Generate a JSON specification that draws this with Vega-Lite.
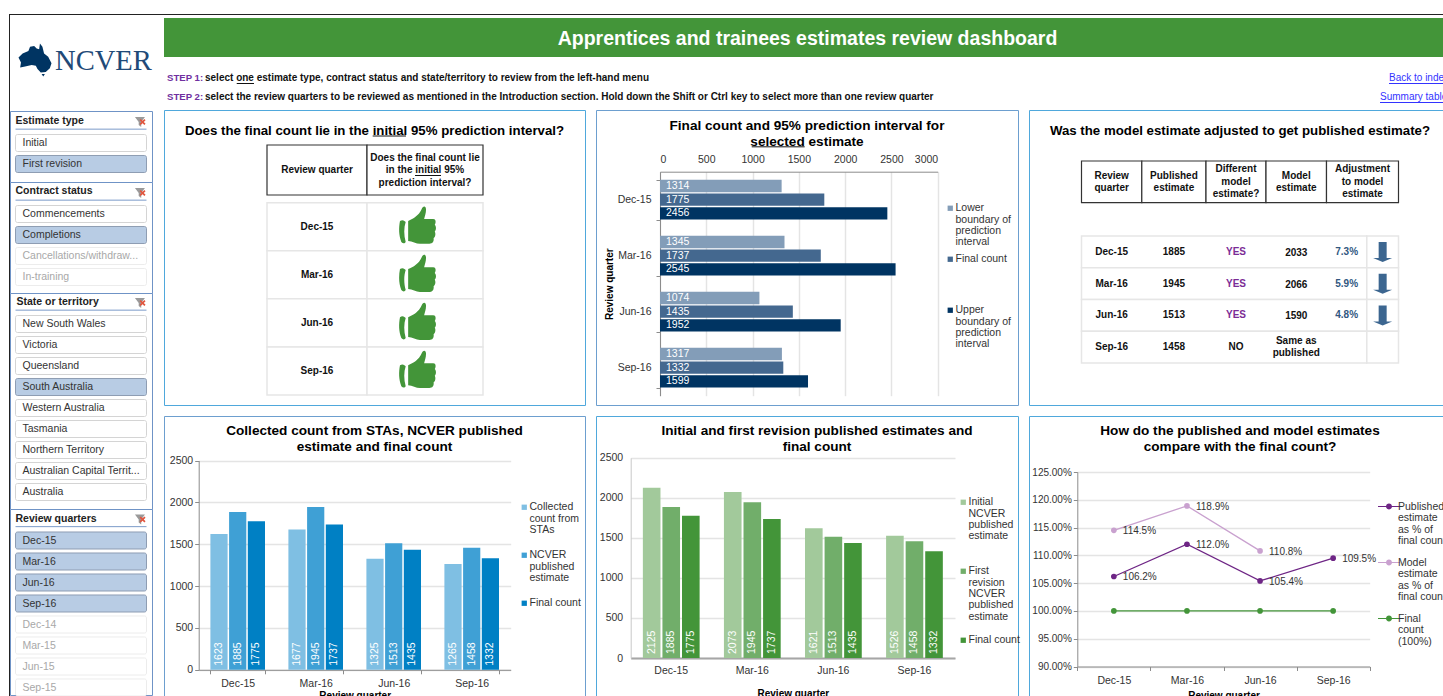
{
"$schema":"https://vega.github.io/schema/vega-lite/v6.json",
"padding":{"left":9,"top":14,"right":0,"bottom":0},
"background":"white",
"config":{"font":"Liberation Sans","view":{"stroke":null},
"style":{"guide-label":{"lineHeight":11.4}},
"axis":{"labelFontSize":10.5,"labelColor":"#333333","tickColor":"#8c8c8c","domainColor":"#8c8c8c","gridColor":"#e4e4e4","gridWidth":1.5,"titleFontSize":10,"titleFontWeight":"bold","titleColor":"#000000","labelFont":"Liberation Sans","titleFont":"Liberation Sans","tickSize":4},
"legend":{"labelFontSize":10.5,"labelColor":"#333333","title":null,"orient":"none","gridAlign":"all","symbolType":"square","symbolSize":28,"symbolStrokeWidth":0,"labelLimit":200,"labelBaseline":"top"},
"title":{"font":"Liberation Sans","fontSize":13.25,"fontWeight":"bold","color":"#000000","anchor":"middle","frame":"group","baseline":"top","lineHeight":16}},
"spacing":0,
"resolve":{"scale":{"color":"independent","fill":"independent","stroke":"independent","xOffset":"independent","yOffset":"independent"},"legend":{"color":"independent","fill":"independent","stroke":"independent"}},
"vconcat":[
{"width":1440,"height":1,"view":{"fill":"#222222"},"data":{"values":[]},"mark":"point","encoding":{}},
{"spacing":-1,
"resolve":{"scale":{"color":"independent","fill":"independent","stroke":"independent","xOffset":"independent","yOffset":"independent"},"legend":{"color":"independent","fill":"independent","stroke":"independent"}},
"hconcat":[
{"width":1,"height":690,"view":{"fill":"#222222"},"data":{"values":[]},"mark":"point","encoding":{}},
{"spacing":0,"bounds":"flush",
"resolve":{"scale":{"color":"independent","fill":"independent","stroke":"independent","xOffset":"independent","yOffset":"independent"},"legend":{"color":"independent","fill":"independent","stroke":"independent"}},
"vconcat":[
{"width":142,"height":96,"data":{"values":[{"part":"map","t":""},{"part":"name","t":"NCVER"}]},
"encoding":{"x":{"field":"part","type":"nominal","axis":null,"scale":{"type":"point","padding":0,"domain":["map","name"],"range":[25,45]}},"y":{"field":"part","type":"nominal","axis":null,"scale":{"type":"point","padding":0,"domain":["map","name"],"range":[45,46]}}},
"layer":[
{"transform":[{"filter":"datum.part=='map'"}],"mark":{"type":"point","filled":true,"opacity":1,"color":"#003462","size":1089,"shape":"M-1,-0.15 L-0.75,-0.4 L-0.4,-0.55 L-0.3,-0.8 L-0.05,-0.85 L0.1,-0.7 L0.25,-0.65 L0.3,-1 L0.45,-0.8 L0.55,-0.4 L0.8,-0.2 L1,0.2 L0.9,0.5 L0.65,0.72 L0.35,0.75 L0.15,0.55 L0.05,0.35 L-0.2,0.3 L-0.6,0.4 L-0.9,0.45 L-0.85,0.15 Z M0.4,0.85 L0.6,0.85 L0.5,1 Z"}},
{"transform":[{"filter":"datum.part=='name'"}],"mark":{"type":"text","font":"Liberation Serif","fontSize":28.6,"color":"#1f4a78","align":"left","baseline":"middle"},"encoding":{"text":{"field":"t"}}}
]},
{"width":142,"height":71,"view":{"stroke":"#6f93c6","fill":"white"},
"data":{"values":[{"item":"Estimate type","state":"header"},{"item":"Initial","state":"off"},{"item":"First revision","state":"on"}]},
"encoding":{"y":{"field":"item","type":"nominal","axis":null,"scale":{"domain":["Estimate type","Initial","First revision"],"range":[0.5,63.5],"paddingInner":0.19,"paddingOuter":0.095}}},
"layer":[
{"transform":[{"filter":"datum.state!='header'"}],"mark":{"type":"rect","cornerRadius":2,"strokeWidth":1},"encoding":{"x":{"datum":0,"type":"quantitative","axis":null,"scale":{"domain":[0,1],"range":[5.5,136.5]}},"x2":{"datum":1},"fill":{"field":"state","type":"nominal","legend":null,"scale":{"domain":["off","on","dim"],"range":["#ffffff","#b8cce4","#ffffff"]}},"stroke":{"field":"state","type":"nominal","legend":null,"scale":{"domain":["off","on","dim"],"range":["#d4d4d4","#8e9db3","#ececec"]}}}},
{"transform":[{"filter":"datum.state!='header'"}],"mark":{"type":"text","align":"left","baseline":"middle","dx":7,"fontSize":10.5},"encoding":{"x":{"datum":0,"type":"quantitative"},"text":{"field":"item"},"color":{"field":"state","type":"nominal","legend":null,"scale":{"domain":["off","on","dim"],"range":["#333333","#333333","#a8a8a8"]}}}},
{"transform":[{"filter":"datum.state=='header'"}],"mark":{"type":"text","align":"left","baseline":"middle","dy":-1,"dx":0,"fontSize":10.5,"fontWeight":"bold","color":"#222222"},"encoding":{"x":{"datum":0,"type":"quantitative"},"text":{"field":"item"}}},
{"transform":[{"filter":"datum.state=='header'"}],"mark":{"type":"rule","color":"#7c9bc9","strokeWidth":1},"encoding":{"x":{"datum":0,"type":"quantitative"},"x2":{"datum":1},"y":{"field":"item","type":"nominal","bandPosition":0.92}}},
{"transform":[{"filter":"datum.state=='header'"}],"mark":{"type":"point","filled":true,"opacity":1,"color":"#9a9a9a","size":100,"dy":-2,"shape":"M-1,-1 L1,-1 L0.25,0 L0.25,1 L-0.25,0.6 L-0.25,0 Z"},"encoding":{"x":{"datum":0.95,"type":"quantitative"}}},
{"transform":[{"filter":"datum.state=='header'"}],"mark":{"type":"point","filled":true,"opacity":1,"color":"#e0563f","size":36,"shape":"M-1,-0.6 L-0.6,-1 L0,-0.4 L0.6,-1 L1,-0.6 L0.4,0 L1,0.6 L0.6,1 L0,0.4 L-0.6,1 L-1,0.6 L-0.4,0 Z"},"encoding":{"x":{"datum":0.97,"type":"quantitative"}}}
]},
{"width":142,"height":111,"view":{"stroke":"#6f93c6","fill":"white"},
"data":{"values":[{"item":"Contract status","state":"header"},{"item":"Commencements","state":"off"},{"item":"Completions","state":"on"},{"item":"Cancellations/withdraw...","state":"dim"},{"item":"In-training","state":"dim"}]},
"encoding":{"y":{"field":"item","type":"nominal","axis":null,"scale":{"domain":["Contract status","Commencements","Completions","Cancellations/withdraw...","In-training"],"range":[0.5,105.5],"paddingInner":0.19,"paddingOuter":0.095}}},
"layer":[
{"transform":[{"filter":"datum.state!='header'"}],"mark":{"type":"rect","cornerRadius":2,"strokeWidth":1},"encoding":{"x":{"datum":0,"type":"quantitative","axis":null,"scale":{"domain":[0,1],"range":[5.5,136.5]}},"x2":{"datum":1},"fill":{"field":"state","type":"nominal","legend":null,"scale":{"domain":["off","on","dim"],"range":["#ffffff","#b8cce4","#ffffff"]}},"stroke":{"field":"state","type":"nominal","legend":null,"scale":{"domain":["off","on","dim"],"range":["#d4d4d4","#8e9db3","#ececec"]}}}},
{"transform":[{"filter":"datum.state!='header'"}],"mark":{"type":"text","align":"left","baseline":"middle","dx":7,"fontSize":10.5},"encoding":{"x":{"datum":0,"type":"quantitative"},"text":{"field":"item"},"color":{"field":"state","type":"nominal","legend":null,"scale":{"domain":["off","on","dim"],"range":["#333333","#333333","#a8a8a8"]}}}},
{"transform":[{"filter":"datum.state=='header'"}],"mark":{"type":"text","align":"left","baseline":"middle","dy":-2,"dx":0,"fontSize":10.5,"fontWeight":"bold","color":"#222222"},"encoding":{"x":{"datum":0,"type":"quantitative"},"text":{"field":"item"}}},
{"transform":[{"filter":"datum.state=='header'"}],"mark":{"type":"rule","color":"#7c9bc9","strokeWidth":1},"encoding":{"x":{"datum":0,"type":"quantitative"},"x2":{"datum":1},"y":{"field":"item","type":"nominal","bandPosition":0.92}}},
{"transform":[{"filter":"datum.state=='header'"}],"mark":{"type":"point","filled":true,"opacity":1,"color":"#9a9a9a","size":100,"dy":-2,"shape":"M-1,-1 L1,-1 L0.25,0 L0.25,1 L-0.25,0.6 L-0.25,0 Z"},"encoding":{"x":{"datum":0.95,"type":"quantitative"}}},
{"transform":[{"filter":"datum.state=='header'"}],"mark":{"type":"point","filled":true,"opacity":1,"color":"#e0563f","size":36,"shape":"M-1,-0.6 L-0.6,-1 L0,-0.4 L0.6,-1 L1,-0.6 L0.4,0 L1,0.6 L0.6,1 L0,0.4 L-0.6,1 L-1,0.6 L-0.4,0 Z"},"encoding":{"x":{"datum":0.97,"type":"quantitative"}}}
]},
{"width":142,"height":216,"view":{"stroke":"#6f93c6","fill":"white"},
"data":{"values":[{"item":"State or territory","state":"header"},{"item":"New South Wales","state":"off"},{"item":"Victoria","state":"off"},{"item":"Queensland","state":"off"},{"item":"South Australia","state":"on"},{"item":"Western Australia","state":"off"},{"item":"Tasmania","state":"off"},{"item":"Northern Territory","state":"off"},{"item":"Australian Capital Territ...","state":"off"},{"item":"Australia","state":"off"}]},
"encoding":{"y":{"field":"item","type":"nominal","axis":null,"scale":{"domain":["State or territory","New South Wales","Victoria","Queensland","South Australia","Western Australia","Tasmania","Northern Territory","Australian Capital Territ...","Australia"],"range":[-0.5,209.5],"paddingInner":0.19,"paddingOuter":0.095}}},
"layer":[
{"transform":[{"filter":"datum.state!='header'"}],"mark":{"type":"rect","cornerRadius":2,"strokeWidth":1},"encoding":{"x":{"datum":0,"type":"quantitative","axis":null,"scale":{"domain":[0,1],"range":[5.5,136.5]}},"x2":{"datum":1},"fill":{"field":"state","type":"nominal","legend":null,"scale":{"domain":["off","on","dim"],"range":["#ffffff","#b8cce4","#ffffff"]}},"stroke":{"field":"state","type":"nominal","legend":null,"scale":{"domain":["off","on","dim"],"range":["#d4d4d4","#8e9db3","#ececec"]}}}},
{"transform":[{"filter":"datum.state!='header'"}],"mark":{"type":"text","align":"left","baseline":"middle","dx":7,"fontSize":10.5},"encoding":{"x":{"datum":0,"type":"quantitative"},"text":{"field":"item"},"color":{"field":"state","type":"nominal","legend":null,"scale":{"domain":["off","on","dim"],"range":["#333333","#333333","#a8a8a8"]}}}},
{"transform":[{"filter":"datum.state=='header'"}],"mark":{"type":"text","align":"left","baseline":"middle","dy":-1,"dx":1,"fontSize":10.5,"fontWeight":"bold","color":"#222222"},"encoding":{"x":{"datum":0,"type":"quantitative"},"text":{"field":"item"}}},
{"transform":[{"filter":"datum.state=='header'"}],"mark":{"type":"rule","color":"#7c9bc9","strokeWidth":1},"encoding":{"x":{"datum":0,"type":"quantitative"},"x2":{"datum":1},"y":{"field":"item","type":"nominal","bandPosition":0.92}}},
{"transform":[{"filter":"datum.state=='header'"}],"mark":{"type":"point","filled":true,"opacity":1,"color":"#9a9a9a","size":100,"dy":-2,"shape":"M-1,-1 L1,-1 L0.25,0 L0.25,1 L-0.25,0.6 L-0.25,0 Z"},"encoding":{"x":{"datum":0.95,"type":"quantitative"}}},
{"transform":[{"filter":"datum.state=='header'"}],"mark":{"type":"point","filled":true,"opacity":1,"color":"#e0563f","size":36,"shape":"M-1,-0.6 L-0.6,-1 L0,-0.4 L0.6,-1 L1,-0.6 L0.4,0 L1,0.6 L0.6,1 L0,0.4 L-0.6,1 L-1,0.6 L-0.4,0 Z"},"encoding":{"x":{"datum":0.97,"type":"quantitative"}}}
]},
{"width":142,"height":186,"view":{"stroke":"#6f93c6","fill":"white"},
"data":{"values":[{"item":"Review quarters","state":"header"},{"item":"Dec-15","state":"on"},{"item":"Mar-16","state":"on"},{"item":"Jun-16","state":"on"},{"item":"Sep-16","state":"on"},{"item":"Dec-14","state":"dim"},{"item":"Mar-15","state":"dim"},{"item":"Jun-15","state":"dim"},{"item":"Sep-15","state":"dim"}]},
"encoding":{"y":{"field":"item","type":"nominal","axis":null,"scale":{"domain":["Review quarters","Dec-15","Mar-16","Jun-16","Sep-16","Dec-14","Mar-15","Jun-15","Sep-15"],"range":[0,189],"paddingInner":0.19,"paddingOuter":0.095}}},
"layer":[
{"transform":[{"filter":"datum.state!='header'"}],"mark":{"type":"rect","cornerRadius":2,"strokeWidth":1},"encoding":{"x":{"datum":0,"type":"quantitative","axis":null,"scale":{"domain":[0,1],"range":[5.5,136.5]}},"x2":{"datum":1},"fill":{"field":"state","type":"nominal","legend":null,"scale":{"domain":["off","on","dim"],"range":["#ffffff","#b8cce4","#ffffff"]}},"stroke":{"field":"state","type":"nominal","legend":null,"scale":{"domain":["off","on","dim"],"range":["#d4d4d4","#8e9db3","#ececec"]}}}},
{"transform":[{"filter":"datum.state!='header'"}],"mark":{"type":"text","align":"left","baseline":"middle","dx":7,"fontSize":10.5},"encoding":{"x":{"datum":0,"type":"quantitative"},"text":{"field":"item"},"color":{"field":"state","type":"nominal","legend":null,"scale":{"domain":["off","on","dim"],"range":["#333333","#333333","#a8a8a8"]}}}},
{"transform":[{"filter":"datum.state=='header'"}],"mark":{"type":"text","align":"left","baseline":"middle","dy":-1,"dx":0,"fontSize":10.5,"fontWeight":"bold","color":"#222222"},"encoding":{"x":{"datum":0,"type":"quantitative"},"text":{"field":"item"}}},
{"transform":[{"filter":"datum.state=='header'"}],"mark":{"type":"rule","color":"#7c9bc9","strokeWidth":1},"encoding":{"x":{"datum":0,"type":"quantitative"},"x2":{"datum":1},"y":{"field":"item","type":"nominal","bandPosition":0.92}}},
{"transform":[{"filter":"datum.state=='header'"}],"mark":{"type":"point","filled":true,"opacity":1,"color":"#9a9a9a","size":100,"dy":-2,"shape":"M-1,-1 L1,-1 L0.25,0 L0.25,1 L-0.25,0.6 L-0.25,0 Z"},"encoding":{"x":{"datum":0.95,"type":"quantitative"}}},
{"transform":[{"filter":"datum.state=='header'"}],"mark":{"type":"point","filled":true,"opacity":1,"color":"#e0563f","size":36,"shape":"M-1,-0.6 L-0.6,-1 L0,-0.4 L0.6,-1 L1,-0.6 L0.4,0 L1,0.6 L0.6,1 L0,0.4 L-0.6,1 L-1,0.6 L-0.4,0 Z"},"encoding":{"x":{"datum":0.97,"type":"quantitative"}}}
]}
]},
{"width":11,"height":1,"data":{"values":[]},"mark":"point","encoding":{}},
{"spacing":0,
"resolve":{"scale":{"color":"independent","fill":"independent","stroke":"independent","xOffset":"independent","yOffset":"independent"},"legend":{"color":"independent","fill":"independent","stroke":"independent"}},
"vconcat":[
{"width":1,"height":3,"data":{"values":[]},"mark":"point","encoding":{}},
{"width":1287,"height":39,"view":{"fill":"#439539"},"data":{"values":[{"t":"Apprentices and trainees estimates review dashboard"}]},"mark":{"type":"text","fontSize":19.5,"fontWeight":"bold","color":"#ffffff","baseline":"middle","dy":1},"encoding":{"text":{"field":"t"}}},
{"width":1279,"height":47,"data":{"values":[
{"line":1,"c":0,"k":"step","t":"STEP 1:"},{"line":1,"c":1,"k":"text","t":"select one estimate type, contract status and state/territory  to review from the left-hand menu"},{"line":1,"c":3,"k":"link","t":"Back to index"},
{"line":2,"c":0,"k":"step","t":"STEP 2:"},{"line":2,"c":1,"k":"text","t":"select the review quarters to be reviewed as mentioned in the Introduction section. Hold down the Shift or Ctrl key to select more than one review quarter"},{"line":2,"c":2,"k":"link","t":"Summary table"},
{"line":1.29,"c":1.027,"c2":1.0417,"k":"text"},{"line":1.29,"c":3,"c2":4,"k":"link"},{"line":2.29,"c":2,"c2":3.918,"k":"link"}]},
"encoding":{"x":{"field":"c","type":"quantitative","axis":null,"scale":{"domain":[0,1,2,3,4],"range":[3,41,1216,1225,1286]}},"y":{"field":"line","type":"quantitative","axis":null,"scale":{"domain":[1,2],"range":[21,40],"zero":false,"nice":false}},"color":{"field":"k","type":"nominal","legend":null,"scale":{"domain":["step","text","link"],"range":["#7030a0","#111111","#3333ff"]}}},
"layer":[
{"transform":[{"filter":"datum.k=='step'"}],"mark":{"type":"text","align":"left","baseline":"middle","fontSize":9.6,"fontWeight":"bold"},"encoding":{"text":{"field":"t"}}},
{"transform":[{"filter":"datum.k=='text' && isValid(datum.t)"}],"mark":{"type":"text","align":"left","baseline":"middle","fontSize":10,"fontWeight":"bold"},"encoding":{"text":{"field":"t"}}},
{"transform":[{"filter":"datum.k=='link' && isValid(datum.t)"}],"mark":{"type":"text","align":"left","baseline":"middle","fontSize":10},"encoding":{"text":{"field":"t"}}},
{"transform":[{"filter":"isValid(datum.c2)"}],"mark":{"type":"rule","strokeWidth":1},"encoding":{"x2":{"field":"c2"}}}
]},
{"spacing":11,"bounds":"flush",
"resolve":{"scale":{"color":"independent","fill":"independent","stroke":"independent","xOffset":"independent","yOffset":"independent"},"legend":{"color":"independent","fill":"independent","stroke":"independent"}},
"hconcat":[
{"width":421,"height":295,"view":{"stroke":"#4fa8dc","fill":"white"},
"title":{"text":"Does the final count lie in the initial 95% prediction interval?","offset":-28},
"data":{"values":[
{"c":0,"c2":1,"r":0,"r2":1,"cx":0.5,"ry":0.5,"k":"head","t":"Review quarter"},
{"c":1,"c2":2,"r":0,"r2":1,"cx":1.5,"ry":0.25,"k":"head","t":"Does the final count lie\nin the initial 95%\nprediction interval?"},
{"c":0,"c2":1,"r":2,"r2":3,"cx":0.5,"ry":2.5,"k":"body","t":"Dec-15"},{"c":1,"c2":2,"r":2,"r2":3,"cx":1.44,"ry":2.46,"k":"yes","t":"Yes"},
{"c":0,"c2":1,"r":3,"r2":4,"cx":0.5,"ry":3.5,"k":"body","t":"Mar-16"},{"c":1,"c2":2,"r":3,"r2":4,"cx":1.44,"ry":3.46,"k":"yes","t":"Yes"},
{"c":0,"c2":1,"r":4,"r2":5,"cx":0.5,"ry":4.5,"k":"body","t":"Jun-16"},{"c":1,"c2":2,"r":4,"r2":5,"cx":1.44,"ry":4.46,"k":"yes","t":"Yes"},
{"c":0,"c2":1,"r":5,"r2":6,"cx":0.5,"ry":5.5,"k":"body","t":"Sep-16"},{"c":1,"c2":2,"r":5,"r2":6,"cx":1.44,"ry":5.46,"k":"yes","t":"Yes"},
{"c":1.049,"c2":1.336,"ry":-0.18,"k":"under"},{"c":1.414,"c2":1.638,"ry":0.61,"k":"under"}]},
"layer":[
{"transform":[{"filter":"datum.k=='body'||datum.k=='yes'"}],"mark":{"type":"rect","fill":"#ffffff","stroke":"#e6e6e6","strokeWidth":1.5},"encoding":{"x":{"field":"c","type":"quantitative","axis":null,"scale":{"domain":[0,1,2],"range":[103,203,319]}},"x2":{"field":"c2"},"y":{"field":"r","type":"quantitative","axis":null,"scale":{"domain":[0,1,2,6],"range":[35,85,92.7,285]}},"y2":{"field":"r2"}}},
{"transform":[{"filter":"datum.k=='head'"}],"mark":{"type":"rect","fill":"#ffffff","stroke":"#333333","strokeWidth":1.2},"encoding":{"x":{"field":"c","type":"quantitative"},"x2":{"field":"c2"},"y":{"field":"r","type":"quantitative"},"y2":{"field":"r2"}}},
{"transform":[{"filter":"datum.k=='head'||datum.k=='body'"}],"mark":{"type":"text","fontSize":10,"fontWeight":"bold","color":"#111111","lineBreak":"\n","baseline":"middle","lineHeight":12.5},"encoding":{"x":{"field":"cx","type":"quantitative"},"y":{"field":"ry","type":"quantitative"},"text":{"field":"t"}}},
{"transform":[{"filter":"datum.k=='under'"}],"mark":{"type":"rule","color":"#111111","strokeWidth":1},"encoding":{"x":{"field":"c","type":"quantitative"},"x2":{"field":"c2"},"y":{"field":"ry","type":"quantitative"}}},
{"transform":[{"filter":"datum.k=='yes'"}],"mark":{"type":"point","filled":true,"opacity":1,"color":"#439539","size":1444,"shape":"M-0.52,-0.2 C-0.25,-0.3 0.05,-0.5 0.18,-0.8 C0.25,-1 0.42,-1.02 0.42,-0.8 C0.42,-0.6 0.36,-0.45 0.32,-0.3 L0.8,-0.3 C0.95,-0.3 0.95,-0.1 0.88,0 C0.98,0.1 0.95,0.3 0.88,0.35 C0.95,0.5 0.9,0.65 0.82,0.7 C0.85,0.9 0.75,1 0.6,1 L0.1,1 C-0.1,1 -0.3,0.85 -0.52,0.85 Z M-0.95,-0.2 C-0.8,-0.3 -0.7,-0.2 -0.65,-0.15 C-0.75,0.15 -0.75,0.55 -0.65,0.9 C-0.7,1 -0.8,1 -0.88,0.9 C-1.02,0.55 -1.02,0.15 -0.95,-0.2 Z"},"encoding":{"x":{"field":"cx","type":"quantitative"},"y":{"field":"ry","type":"quantitative"}}}
]},
{"width":422,"height":295,"view":{"stroke":"#6d9fcf","fill":"white"},
"title":{"text":["Final count and 95% prediction interval for","selected estimate"],"offset":-44,"fontSize":13.6},
"data":{"values":[
{"quarter":"Dec-15","series":"Lower boundary of prediction interval","value":1314},{"quarter":"Dec-15","series":"Final count","value":1775},{"quarter":"Dec-15","series":"Upper boundary of prediction interval","value":2456},
{"quarter":"Mar-16","series":"Lower boundary of prediction interval","value":1345},{"quarter":"Mar-16","series":"Final count","value":1737},{"quarter":"Mar-16","series":"Upper boundary of prediction interval","value":2545},
{"quarter":"Jun-16","series":"Lower boundary of prediction interval","value":1074},{"quarter":"Jun-16","series":"Final count","value":1435},{"quarter":"Jun-16","series":"Upper boundary of prediction interval","value":1952},
{"quarter":"Sep-16","series":"Lower boundary of prediction interval","value":1317},{"quarter":"Sep-16","series":"Final count","value":1332},{"quarter":"Sep-16","series":"Upper boundary of prediction interval","value":1599}]},
"encoding":{
"y":{"field":"quarter","type":"nominal","scale":{"domain":["Dec-15","Mar-16","Jun-16","Sep-16"],"range":[61.7,285.7],"paddingInner":0.29,"paddingOuter":0.145},"axis":{"offset":-64,"tickBand":"extent","title":"Review quarter","titlePadding":3,"labelPadding":5}}},
"layer":[
{"mark":{"type":"bar"},"encoding":{"yOffset":{"field":"series","type":"nominal","scale":{"domain":["Lower boundary of prediction interval","Final count","Upper boundary of prediction interval"],"paddingInner":0.1}},"x":{"field":"value","type":"quantitative","scale":{"domain":[0,3000],"range":[64,341.7],"nice":false},"axis":{"orient":"top","offset":-61.7,"values":[0,500,1000,1500,2000,2500,3000],"format":"d","grid":true,"title":null,"ticks":false,"labelPadding":7}},
"color":{"field":"series","type":"nominal","scale":{"domain":["Lower boundary of prediction interval","Final count","Upper boundary of prediction interval"],"range":["#839db8","#44688f","#003462"]},"legend":{"legendX":349,"legendY":93,"rowPadding":6,"labelOffset":0,"encode":{"labels":{"update":{"dy":{"value":-5}}}},"labelExpr":"{'Lower boundary of prediction interval':['Lower','boundary of','prediction','interval'],'Final count':['Final count'],'Upper boundary of prediction interval':['Upper','boundary of','prediction','interval']}[datum.label]"}}}},
{"mark":{"type":"text","align":"left","baseline":"middle","dx":6,"fontSize":10.5,"color":"#ffffff"},"encoding":{"yOffset":{"field":"series","type":"nominal"},"x":{"datum":0,"type":"quantitative"},"text":{"field":"value"}}},
{"data":{"values":[{"quarter":"Dec-15","from":991,"to":1563}]},"mark":{"type":"rule","color":"#111111","strokeWidth":1},"encoding":{"x":{"field":"from","type":"quantitative"},"x2":{"field":"to"},"y":{"field":"quarter","type":"nominal","bandPosition":-0.83}}}
]},
{"width":422,"height":295,"view":{"stroke":"#4fa8dc","fill":"white"},
"title":{"text":"Was the model estimate adjusted to get published estimate?","offset":-28},
"data":{"values":[
{"c":0,"c2":1,"r":0,"r2":1,"cx":0.5,"ry":0.35,"k":"head","t":"Review\nquarter"},{"c":1,"c2":2,"r":0,"r2":1,"cx":1.5,"ry":0.35,"k":"head","t":"Published\nestimate"},{"c":2,"c2":3,"r":0,"r2":1,"cx":2.5,"ry":0.2,"k":"head","t":"Different\nmodel\nestimate?"},{"c":3,"c2":4,"r":0,"r2":1,"cx":3.5,"ry":0.35,"k":"head","t":"Model\nestimate"},{"c":4,"c2":5,"r":0,"r2":1,"cx":4.5,"ry":0.2,"k":"head","t":"Adjustment\nto model\nestimate"},
{"c":0,"c2":4.56,"r":2,"r2":3,"cx":0.5,"ry":2.5,"k":"body","t":"Dec-15"},{"cx":1.5,"ry":2.5,"k":"body","t":"1885"},{"cx":2.5,"ry":2.5,"k":"flag","t":"YES"},{"cx":3.5,"ry":2.53,"k":"body","t":"2033"},{"cx":4.28,"ry":2.5,"k":"pct","t":"7.3%"},{"c":4.56,"c2":5,"r":2,"r2":3,"cx":4.78,"ry":2.5,"k":"arrow","t":""},
{"c":0,"c2":4.56,"r":3,"r2":4,"cx":0.5,"ry":3.5,"k":"body","t":"Mar-16"},{"cx":1.5,"ry":3.5,"k":"body","t":"1945"},{"cx":2.5,"ry":3.5,"k":"flag","t":"YES"},{"cx":3.5,"ry":3.53,"k":"body","t":"2066"},{"cx":4.28,"ry":3.5,"k":"pct","t":"5.9%"},{"c":4.56,"c2":5,"r":3,"r2":4,"cx":4.78,"ry":3.5,"k":"arrow","t":""},
{"c":0,"c2":4.56,"r":4,"r2":5,"cx":0.5,"ry":4.5,"k":"body","t":"Jun-16"},{"cx":1.5,"ry":4.5,"k":"body","t":"1513"},{"cx":2.5,"ry":4.5,"k":"flag","t":"YES"},{"cx":3.5,"ry":4.53,"k":"body","t":"1590"},{"cx":4.28,"ry":4.5,"k":"pct","t":"4.8%"},{"c":4.56,"c2":5,"r":4,"r2":5,"cx":4.78,"ry":4.5,"k":"arrow","t":""},
{"c":0,"c2":4.56,"r":5,"r2":6,"cx":0.5,"ry":5.5,"k":"body","t":"Sep-16"},{"cx":1.5,"ry":5.5,"k":"body","t":"1458"},{"cx":2.5,"ry":5.5,"k":"body","t":"NO"},{"cx":3.5,"ry":5.3,"k":"body","t":"Same as\npublished"},{"c":4.56,"c2":5,"r":5,"r2":6,"k":"none","t":""}]},
"layer":[
{"transform":[{"filter":"isValid(datum.c) && datum.k!='head'"}],"mark":{"type":"rect","fill":"#ffffff","stroke":"#e6e6e6","strokeWidth":1.5},"encoding":{"x":{"field":"c","type":"quantitative","axis":null,"scale":{"domain":[0,1,2,3,4,5],"range":[52.5,112.8,177,237,297.5,369.5]}},"x2":{"field":"c2"},"y":{"field":"r","type":"quantitative","axis":null,"scale":{"domain":[0,1,2,6],"range":[51,92.6,126,253]}},"y2":{"field":"r2"}}},
{"transform":[{"filter":"datum.k=='head'"}],"mark":{"type":"rect","fill":"#ffffff","stroke":"#333333","strokeWidth":1.2},"encoding":{"x":{"field":"c","type":"quantitative"},"x2":{"field":"c2"},"y":{"field":"r","type":"quantitative"},"y2":{"field":"r2"}}},
{"transform":[{"filter":"datum.t!=''"}],"mark":{"type":"text","fontSize":10,"fontWeight":"bold","lineBreak":"\n","baseline":"middle","lineHeight":12.5},"encoding":{"x":{"field":"cx","type":"quantitative"},"y":{"field":"ry","type":"quantitative"},"text":{"field":"t"},"color":{"field":"k","type":"nominal","legend":null,"scale":{"domain":["head","body","flag","pct"],"range":["#111111","#111111","#7b2c96","#31577f"]}}}},
{"transform":[{"filter":"datum.k=='arrow'"}],"mark":{"type":"point","filled":true,"opacity":1,"color":"#3c6690","size":400,"shape":"M-0.4,-1 H0.4 V0.6 H0.95 L0,1 L-0.95,0.6 H-0.4 Z"},"encoding":{"x":{"field":"cx","type":"quantitative"},"y":{"field":"ry","type":"quantitative"}}}
]}
]},
{"width":1,"height":9,"data":{"values":[]},"mark":"point","encoding":{}},
{"spacing":11,"bounds":"flush",
"resolve":{"scale":{"color":"independent","fill":"independent","stroke":"independent","xOffset":"independent","yOffset":"independent"},"legend":{"color":"independent","fill":"independent","stroke":"independent"}},
"hconcat":[
{"width":421,"height":295,"view":{"stroke":"#6d9fcf","fill":"white"},
"title":{"text":["Collected count from STAs, NCVER published","estimate and final count"],"offset":-38,"fontSize":13.6},
"data":{"values":[
{"quarter":"Dec-15","series":"Collected count from STAs","value":1623},{"quarter":"Dec-15","series":"NCVER published estimate","value":1885},{"quarter":"Dec-15","series":"Final count","value":1775},
{"quarter":"Mar-16","series":"Collected count from STAs","value":1677},{"quarter":"Mar-16","series":"NCVER published estimate","value":1945},{"quarter":"Mar-16","series":"Final count","value":1737},
{"quarter":"Jun-16","series":"Collected count from STAs","value":1325},{"quarter":"Jun-16","series":"NCVER published estimate","value":1513},{"quarter":"Jun-16","series":"Final count","value":1435},
{"quarter":"Sep-16","series":"Collected count from STAs","value":1265},{"quarter":"Sep-16","series":"NCVER published estimate","value":1458},{"quarter":"Sep-16","series":"Final count","value":1332}]},
"encoding":{
"x":{"field":"quarter","type":"nominal","scale":{"domain":["Dec-15","Mar-16","Jun-16","Sep-16"],"range":[34.7,346.7],"paddingInner":0.3,"paddingOuter":0.15},"axis":{"offset":-41.2,"tickBand":"extent","title":"Review quarter","titlePadding":1,"labelAngle":0,"labelPadding":5}},
"xOffset":{"field":"series","type":"nominal","scale":{"domain":["Collected count from STAs","NCVER published estimate","Final count"],"paddingInner":0.08}}},
"layer":[
{"mark":{"type":"bar"},"encoding":{"y":{"field":"value","type":"quantitative","scale":{"domain":[0,2500],"range":[253.8,44.5],"nice":false},"axis":{"offset":-34.7,"values":[0,500,1000,1500,2000,2500],"format":"d","grid":true,"title":null}},
"color":{"field":"series","type":"nominal","scale":{"domain":["Collected count from STAs","NCVER published estimate","Final count"],"range":["#7fbfe3","#3fa0d5","#0080c4"]},"legend":{"legendX":355,"legendY":86,"rowPadding":14,"labelOffset":0,"encode":{"labels":{"update":{"dy":{"value":-5}}}},"labelExpr":"{'Collected count from STAs':['Collected','count from','STAs'],'NCVER published estimate':['NCVER','published','estimate'],'Final count':['Final count']}[datum.label]"}}}},
{"mark":{"type":"text","angle":270,"align":"left","baseline":"middle","dx":4,"fontSize":10.5,"color":"#ffffff"},"encoding":{"y":{"datum":0,"type":"quantitative"},"text":{"field":"value"}}}
]},
{"width":422,"height":295,"view":{"stroke":"#4fa8dc","fill":"white"},
"title":{"text":["Initial and first revision published estimates and","final count"],"offset":-38,"fontSize":13.6,"dx":10},
"data":{"values":[
{"quarter":"Dec-15","series":"Initial NCVER published estimate","value":2125},{"quarter":"Dec-15","series":"First revision NCVER published estimate","value":1885},{"quarter":"Dec-15","series":"Final count","value":1775},
{"quarter":"Mar-16","series":"Initial NCVER published estimate","value":2073},{"quarter":"Mar-16","series":"First revision NCVER published estimate","value":1945},{"quarter":"Mar-16","series":"Final count","value":1737},
{"quarter":"Jun-16","series":"Initial NCVER published estimate","value":1621},{"quarter":"Jun-16","series":"First revision NCVER published estimate","value":1513},{"quarter":"Jun-16","series":"Final count","value":1435},
{"quarter":"Sep-16","series":"Initial NCVER published estimate","value":1526},{"quarter":"Sep-16","series":"First revision NCVER published estimate","value":1458},{"quarter":"Sep-16","series":"Final count","value":1332}]},
"encoding":{
"x":{"field":"quarter","type":"nominal","scale":{"domain":["Dec-15","Mar-16","Jun-16","Sep-16"],"range":[34.7,359],"paddingInner":0.3,"paddingOuter":0.15},"axis":{"offset":-53,"title":"Review quarter","titlePadding":13,"labelAngle":0,"labelPadding":7,"ticks":false,"domainColor":"#a6a6a6","domainWidth":2}},
"xOffset":{"field":"series","type":"nominal","scale":{"domain":["Initial NCVER published estimate","First revision NCVER published estimate","Final count"],"paddingInner":0.1}}},
"layer":[
{"mark":{"type":"bar"},"encoding":{"y":{"field":"value","type":"quantitative","scale":{"domain":[0,2500],"range":[242,41.8],"nice":false},"axis":{"offset":-34.7,"values":[0,500,1000,1500,2000,2500],"format":"d","grid":true,"title":null,"ticks":false,"domainColor":"#c8c8c8","labelPadding":8}},
"color":{"field":"series","type":"nominal","scale":{"domain":["Initial NCVER published estimate","First revision NCVER published estimate","Final count"],"range":["#a2c99b","#71ae6a","#439539"]},"legend":{"legendX":362,"legendY":81,"rowPadding":12,"labelOffset":0,"encode":{"labels":{"update":{"dy":{"value":-5}}}},"labelExpr":"{'Initial NCVER published estimate':['Initial','NCVER','published','estimate'],'First revision NCVER published estimate':['First','revision','NCVER','published','estimate'],'Final count':['Final count']}[datum.label]"}}}},
{"mark":{"type":"text","angle":270,"align":"left","baseline":"middle","dx":4,"fontSize":10.5,"color":"#ffffff"},"encoding":{"y":{"datum":0,"type":"quantitative"},"text":{"field":"value"}}}
]},
{"width":422,"height":295,"view":{"stroke":"#4fa8dc","fill":"white"},
"title":{"text":["How do the published and model estimates","compare with the final count?"],"offset":-38,"fontSize":13.6},
"data":{"values":[
{"quarter":"Dec-15","series":"Published estimate as % of final count","value":1.062},{"quarter":"Mar-16","series":"Published estimate as % of final count","value":1.12},{"quarter":"Jun-16","series":"Published estimate as % of final count","value":1.054},{"quarter":"Sep-16","series":"Published estimate as % of final count","value":1.095},
{"quarter":"Dec-15","series":"Model estimate as % of final count","value":1.145},{"quarter":"Mar-16","series":"Model estimate as % of final count","value":1.189},{"quarter":"Jun-16","series":"Model estimate as % of final count","value":1.108},
{"quarter":"Dec-15","series":"Final count (100%)","value":1},{"quarter":"Mar-16","series":"Final count (100%)","value":1},{"quarter":"Jun-16","series":"Final count (100%)","value":1},{"quarter":"Sep-16","series":"Final count (100%)","value":1}]},
"encoding":{
"x":{"field":"quarter","type":"nominal","scale":{"type":"band","domain":["Dec-15","Mar-16","Jun-16","Sep-16"],"range":[48.3,340.7],"paddingInner":0,"paddingOuter":0},"axis":{"offset":-44.5,"tickBand":"extent","title":"Review quarter","titlePadding":4,"labelAngle":0,"labelPadding":5}},
"y":{"field":"value","type":"quantitative","scale":{"domain":[0.9,1.25],"range":[250.5,56],"nice":false,"zero":false},"axis":{"offset":-48.3,"values":[0.9,0.95,1,1.05,1.1,1.15,1.2,1.25],"format":".2%","labelFontSize":10,"grid":true,"title":null}}},
"layer":[
{"mark":{"type":"line","strokeWidth":1.3},"encoding":{"stroke":{"field":"series","type":"nominal","legend":null,"scale":{"domain":["Final count (100%)","Model estimate as % of final count","Published estimate as % of final count"],"range":["#439539","#c9a1cf","#6e2585"]}}}},
{"mark":{"type":"point","filled":true,"opacity":1,"size":32},"encoding":{"color":{"field":"series","type":"nominal","scale":{"domain":["Published estimate as % of final count","Model estimate as % of final count","Final count (100%)"],"range":["#6e2585","#c9a1cf","#439539"]},"legend":{"legendX":349,"legendY":75,"rowPadding":0,"labelOffset":-2,"symbolSize":484,"symbolType":"M-1,0.36H1V0.45H-1Z M0.27,0.405A0.27,0.27 0 1 1 -0.27,0.405A0.27,0.27 0 1 1 0.27,0.405Z","labelExpr":"{'Published estimate as % of final count':['Published','estimate','as % of','final count'],'Model estimate as % of final count':['Model','estimate','as % of','final count'],'Final count (100%)':['Final','count','(100%)']}[datum.label]"}}}},
{"transform":[{"filter":"datum.value>1"}],"mark":{"type":"text","align":"left","baseline":"middle","dx":9,"dy":1,"fontSize":10,"color":"#333333"},"encoding":{"text":{"field":"value","type":"quantitative","format":".1%"}}}
]}
]}
]}
]}
]}
